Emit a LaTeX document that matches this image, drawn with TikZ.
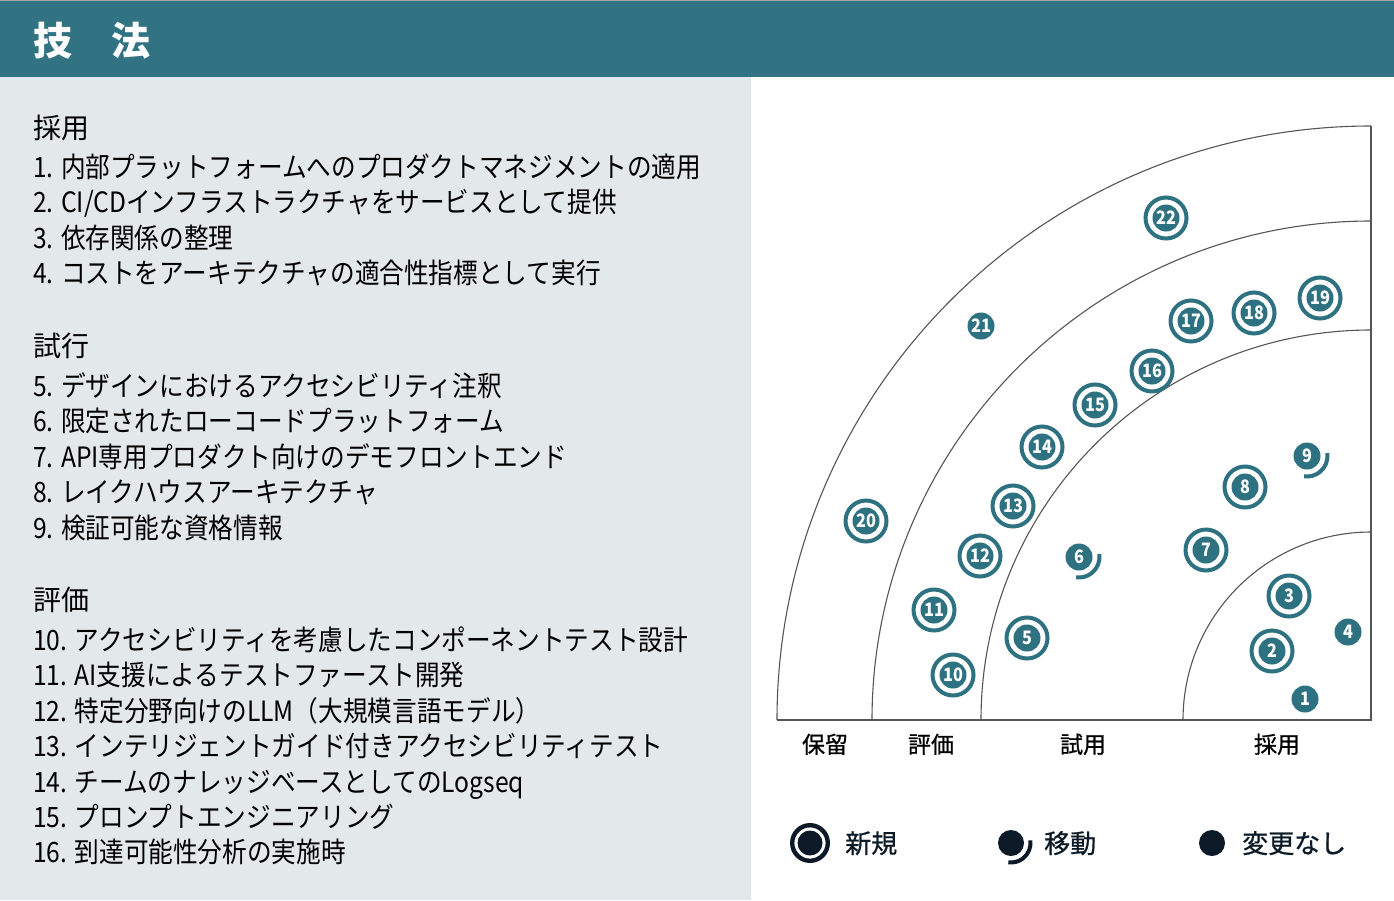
\documentclass[tikz,border=0pt]{standalone}
\usepackage{fontspec}
\setmainfont{Noto Sans CJK JP}
\newfontfamily\jpnarrow[FakeStretch=0.88]{Noto Sans CJK JP}
\newfontfamily\jpnum[FakeStretch=0.88]{Noto Sans CJK JP}
\newfontfamily\jpmed[FakeBold=0.8]{Noto Sans CJK JP}
\usetikzlibrary{calc}
\definecolor{headteal}{HTML}{317383}
\definecolor{blipteal}{HTML}{2E7180}
\definecolor{panelgray}{HTML}{E3E8EB}
\definecolor{inkdark}{HTML}{0B1A26}
\definecolor{ringgray}{HTML}{555555}

\begin{document}
\begin{tikzpicture}[x=1pt,y=-1pt,
  blip/.style={circle,fill=blipteal,inner sep=0pt,minimum size=27pt,text=white,
    font=\jpnum\bfseries\fontsize{18.5}{18.5}\selectfont},
  newring/.style={draw=blipteal,line width=4pt},
  movearc/.style={draw=blipteal,line width=4pt},
  ringline/.style={draw=ringgray,line width=1.1pt},
  heading/.style={anchor=base west,inner sep=0pt,text=black,font=\fontsize{28}{28}\selectfont},
  item/.style={anchor=base west,inner sep=0pt,text=black,font=\jpnarrow\fontsize{28}{28}\selectfont},
  ringlabel/.style={anchor=base,inner sep=0pt,text=black,font=\jpmed\fontsize{23}{23}\selectfont},
  legendtext/.style={anchor=base west,inner sep=0pt,text=inkdark,font=\jpmed\fontsize{26}{26}\selectfont}]
\useasboundingbox (0,0) rectangle (1394,900);
% background
\fill[white] (0,0) rectangle (1394,900);
\fill[panelgray] (0,77) rectangle (751,900);
\fill[headteal] (0,0) rectangle (1394,77);
\draw[gray!70,line width=1pt] (0,0.5) -- (1394,0.5);
\node[anchor=base west,inner sep=0pt,text=white,font=\bfseries\fontsize{39}{39}\selectfont] (title) at (33,55) {技　法};

% list
\node[heading] (hadopt) at (33,138) {採用};
\node[heading] (htrial) at (33,356) {試行};
\node[heading] (hassess) at (33,610) {評価};
\foreach \n/\y/\t in {1/177/{1. 内部プラットフォームへのプロダクトマネジメントの適用},
  2/212/{2. CI/CDインフラストラクチャをサービスとして提供},
  3/248/{3. 依存関係の整理},
  4/283/{4. コストをアーキテクチャの適合性指標として実行},
  5/396/{5. デザインにおけるアクセシビリティ注釈},
  6/431/{6. 限定されたローコードプラットフォーム},
  7/467/{7. API専用プロダクト向けのデモフロントエンド},
  8/502/{8. レイクハウスアーキテクチャ},
  9/538/{9. 検証可能な資格情報},
  10/650/{10. アクセシビリティを考慮したコンポーネントテスト設計},
  11/685/{11. AI支援によるテストファースト開発},
  12/721/{12. 特定分野向けのLLM（大規模言語モデル）},
  13/756/{13. インテリジェントガイド付きアクセシビリティテスト},
  14/792/{14. チームのナレッジベースとしてのLogseq},
  15/827/{15. プロンプトエンジニアリング},
  16/862/{16. 到達可能性分析の実施時}}
  \node[item] (item\n) at (33,\y) {\t};

% radar
\coordinate (O) at (1371,720);
\def\rA{594}
\def\rB{499}
\def\rC{390}
\def\rD{188}
\draw[ringline] (O) ++(0,-\rA) -- (O) -- ++(-\rA,0);
\foreach \r in {\rA,\rB,\rC,\rD}
  \draw[ringline] (O) ++(180:\r) arc (180:270:\r);
\node[ringlabel] (lhold) at (825,753) {保留};
\node[ringlabel] (lassess) at (931,753) {評価};
\node[ringlabel] (ltrial) at (1083,753) {試用};
\node[ringlabel] (ladopt) at (1277,753) {採用};

% blips: new
\foreach \n/\x/\y in {2/1272/651,3/1289/596,5/1027/638,7/1206/550,8/1245/487,
  10/953/675,11/934/610,12/980/556,13/1013/506,14/1042/447,15/1095/405,
  16/1152/371,17/1191/321,18/1254/313,19/1320/298,20/866/521,22/1166/218}{
  \node[blip] (b\n) at (\x,\y) {\n};
  \draw[newring] (b\n.center) circle (20.5);
}
% blips: moved
\foreach \n/\x/\y in {6/1079/557,9/1307/456}{
  \node[blip] (b\n) at (\x,\y) {\n};
  \draw[movearc] (b\n.center) ++(-8:20.5) arc (-8:98:20.5);
}
% blips: no change
\foreach \n/\x/\y in {1/1305/699,4/1348/632,21/981/326}
  \node[blip] (b\n) at (\x,\y) {\n};

% legend
\node[blip,fill=inkdark,minimum size=25pt] (lgnew) at (810,843) {};
\draw[draw=inkdark,line width=4.4pt] (lgnew.center) circle (17.8);
\node[legendtext] (lgnewtext) at (845,853) {新規};
\node[blip,fill=inkdark,minimum size=26pt] (lgmove) at (1011,843) {};
\draw[draw=inkdark,line width=4pt] (lgmove.center) ++(-8:19.5) arc (-8:98:19.5);
\node[legendtext] (lgmovetext) at (1044,853) {移動};
\node[blip,fill=inkdark,minimum size=26pt] (lgsame) at (1212,843) {};
\node[legendtext] (lgsametext) at (1242,853) {変更なし};
\end{tikzpicture}
\end{document}
